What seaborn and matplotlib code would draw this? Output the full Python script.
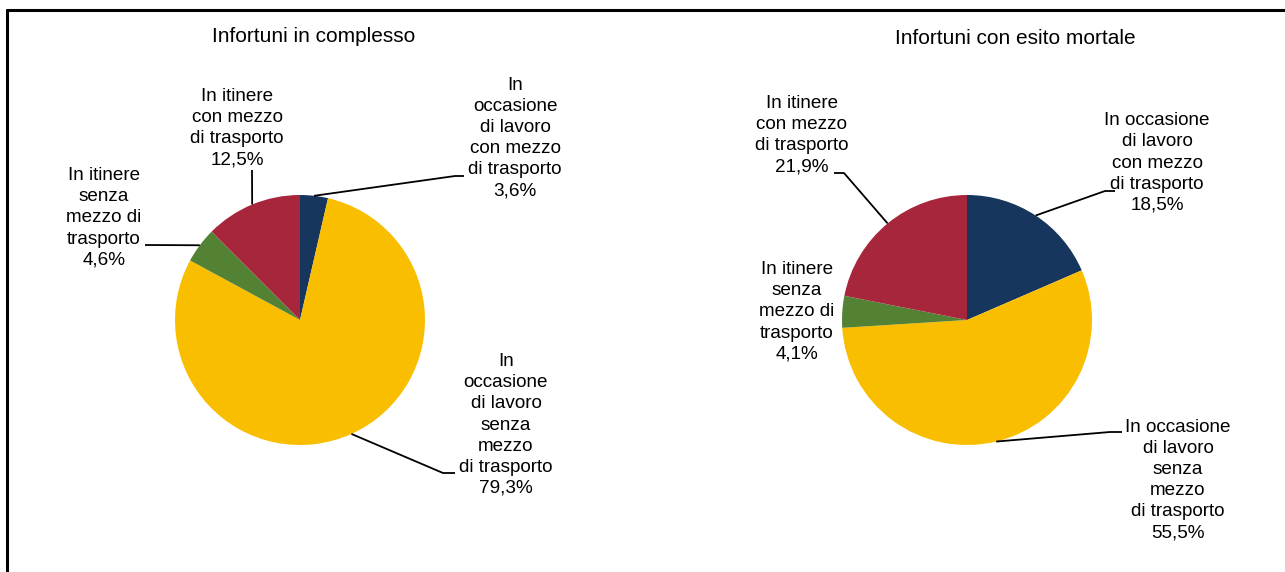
import numpy as np
import seaborn as sns
import matplotlib.pyplot as plt

sns.set_theme(style="white")
plt.rcParams['font.family'] = ['Liberation Sans', 'DejaVu Sans']
plt.rcParams['text.color'] = 'black'

# dati
titoli = ["Infortuni in complesso", "Infortuni con esito mortale"]
valori_complesso = [3.6, 79.3, 4.6, 12.5]
valori_mortali = [18.5, 55.5, 4.1, 21.9]
etichette_complesso = [
    "In\noccasione\ndi lavoro\ncon mezzo\ndi trasporto\n3,6%",
    "In\noccasione\ndi lavoro\nsenza\nmezzo\ndi trasporto\n79,3%",
    "In itinere\nsenza\nmezzo di\ntrasporto\n4,6%",
    "In itinere\ncon mezzo\ndi trasporto\n12,5%",
]
etichette_mortali = [
    "In occasione\ndi lavoro\ncon mezzo\ndi trasporto\n18,5%",
    "In occasione\ndi lavoro\nsenza\nmezzo\ndi trasporto\n55,5%",
    "In itinere\nsenza\nmezzo di\ntrasporto\n4,1%",
    "In itinere\ncon mezzo\ndi trasporto\n21,9%",
]
colori = sns.color_palette(["#17365D", "#FABE00", "#548235", "#A8263C"])

W, H = 1285, 572

def fy(y):
    # pixel (dall'alto) -> coordinate dati
    return H - y

# layout: centro torta, titolo, posizione testo, gomito linea, fine linea
layout = [
    dict(centro=(300, 320), titolo=(314, 36),
         testi=[(515, 138), (506, 425), (104, 218), (237, 128)],
         gomiti=[(455, 176), (443, 473), (145, 245), (252, 170)],
         fini=[(464, 176), (455, 473), None, None]),
    dict(centro=(967, 320), titolo=(1015, 38),
         testi=[(1157, 163), (1178, 480), (797, 312), (802, 135)],
         gomiti=[(1105, 191), (1110, 432), None, (844, 173)],
         fini=[(1115, 191), (1122, 432), None, (834, 173)]),
]

fig = plt.figure(figsize=(W / 100, H / 100), dpi=100)
ax = fig.add_axes([0, 0, 1, 1])

for valori, etichette, titolo, lay in zip([valori_complesso, valori_mortali],
                                          [etichette_complesso, etichette_mortali],
                                          titoli, layout):
    cx, cy = lay["centro"]
    wedges, _ = ax.pie(valori, colors=colori, startangle=90, counterclock=False,
                       center=(cx, fy(cy)), radius=125,
                       wedgeprops=dict(linewidth=0))
    ax.text(lay["titolo"][0], fy(lay["titolo"][1]), titolo,
            ha="center", va="center", fontsize=15)
    for w, et, txt, gom, fin in zip(wedges, etichette, lay["testi"],
                                    lay["gomiti"], lay["fini"]):
        ax.text(txt[0], fy(txt[1]), et, ha="center", va="center",
                multialignment="center", fontsize=13.6, linespacing=1.32)
        if gom is None:
            continue
        ang = np.deg2rad((w.theta1 + w.theta2) / 2)
        px = w.center[0] + w.r * np.cos(ang)
        py = w.center[1] + w.r * np.sin(ang)
        xs = [px, gom[0]]
        ys = [py, fy(gom[1])]
        if fin is not None:
            xs.append(fin[0])
            ys.append(fy(fin[1]))
        ax.plot(xs, ys, color="black", lw=1.3, solid_capstyle="butt")

# bordo
ax.plot([7, W], [fy(10), fy(10)], color="black", lw=2.2)
ax.plot([7, 7], [fy(10), 0], color="black", lw=2.2)

ax.set_xlim(0, W)
ax.set_ylim(0, H)
ax.set_aspect("auto")
ax.axis("off")

fig.savefig("out.png", dpi=100)
